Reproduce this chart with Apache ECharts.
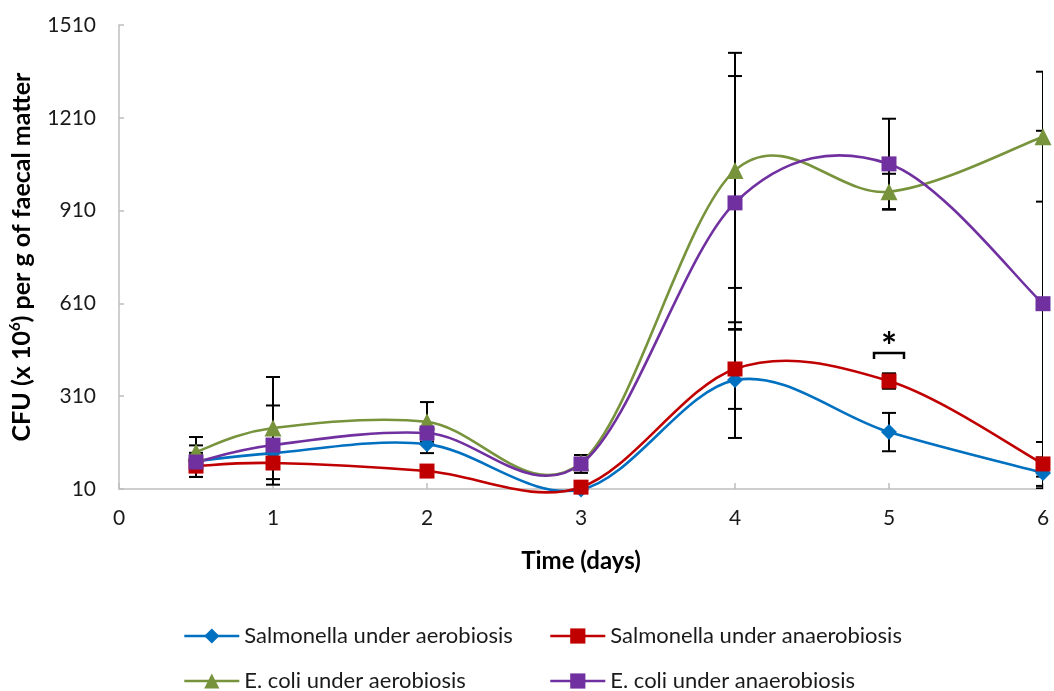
<!DOCTYPE html>
<html>
<head>
<meta charset="utf-8">
<style>
  html, body { margin: 0; padding: 0; background: #ffffff; }
  #chart { width: 1054px; height: 691px; }
</style>
<script src="https://cdn.jsdelivr.net/npm/echarts@6/dist/echarts.min.js"></script>
</head>
<body>
<div id="chart"></div>
<script>
// Sampling times (days)
const days = [0.5, 1, 2, 3, 4, 5, 6];

// Mean counts, CFU (x 10^6) per g of faecal matter
const salmonellaAerobic   = [100, 126, 155, 8, 362, 194, 62];
const salmonellaAnaerobic = [84, 94, 68, 16, 398, 359, 91];
const ecoliAerobic        = [130, 207, 227, 95, 1040, 971, 1149];
const ecoliAnaerobic      = [97, 152, 191, 91, 935, 1061, 609];

// Standard deviations (symmetric error bars)
const salmonellaAerobicSD   = [51, 20, 29, 5, 187, 62, 50];
const salmonellaAnaerobicSD = [35, 15, 10, 5, 129, 25, 71];
const ecoliAerobicSD        = [48, 165, 64, 15, 380, 58, 210];
const ecoliAnaerobicSD      = [30, 128, 20, 29, 410, 146, 559];

// Significance marker between the two Salmonella conditions
const significanceDay = [5];
const significanceLevel = [450];

// Axis ticks
const xTicks = [0, 1, 2, 3, 4, 5, 6];
const yMin = 10, yMax = 1510, yStep = 300;

const seriesNames = [
  'Salmonella under aerobiosis',
  'Salmonella under anaerobiosis',
  'E. coli under aerobiosis',
  'E. coli under anaerobiosis'
];
const seriesColors = ['#0070C0', '#C00000', '#77933C', '#7030A0'];
const seriesSymbols = ['diamond', 'rect', 'triangle', 'rect'];
const seriesSymbolSizes = [16, 15, 17, 15];
const means = [salmonellaAerobic, salmonellaAnaerobic, ecoliAerobic, ecoliAnaerobic];
const sds = [salmonellaAerobicSD, salmonellaAnaerobicSD, ecoliAerobicSD, ecoliAnaerobicSD];

const FONT = 'Lato, "Open Sans", sans-serif';

const chart = echarts.init(document.getElementById('chart'), null, { renderer: 'canvas' });

// Vertical error bar with caps
function errorBarRender(params, api) {
  const x = api.value(0);
  const lo = api.coord([x, api.value(1)]);
  const hi = api.coord([x, api.value(2)]);
  const half = 7;
  const style = { stroke: '#000000', lineWidth: 2 };
  return {
    type: 'group',
    children: [
      { type: 'line', shape: { x1: hi[0], y1: hi[1], x2: lo[0], y2: lo[1] }, style },
      { type: 'line', shape: { x1: hi[0] - half, y1: hi[1], x2: hi[0] + half, y2: hi[1] }, style },
      { type: 'line', shape: { x1: lo[0] - half, y1: lo[1], x2: lo[0] + half, y2: lo[1] }, style }
    ]
  };
}

// Smoothed connecting curve (Catmull-Rom spline as cubic Bezier segments)
function makeCurveRender(values, color) {
  return function (params, api) {
    const k = params.dataIndex;
    if (k >= days.length - 1) return null;
    const pt = (j) => {
      const jj = Math.max(0, Math.min(days.length - 1, j));
      return api.coord([days[jj], values[jj]]);
    };
    const p0 = pt(k - 1), p1 = pt(k), p2 = pt(k + 1), p3 = pt(k + 2);
    const t = 1 / 6;
    return {
      type: 'bezierCurve',
      shape: {
        x1: p1[0], y1: p1[1],
        cpx1: p1[0] + (p2[0] - p0[0]) * t, cpy1: p1[1] + (p2[1] - p0[1]) * t,
        cpx2: p2[0] - (p3[0] - p1[0]) * t, cpy2: p2[1] - (p3[1] - p1[1]) * t,
        x2: p2[0], y2: p2[1]
      },
      style: { stroke: color, lineWidth: 2.6, fill: null, lineCap: 'round' }
    };
  };
}

const series = [];
// Error bars beneath the curves and markers
means.forEach((m, i) => {
  series.push({
    type: 'custom',
    name: seriesNames[i] + ' SD',
    renderItem: errorBarRender,
    data: days.map((d, k) => [d, Math.max(m[k] - sds[i][k], yMin), m[k] + sds[i][k]]),
    encode: { x: 0, y: [1, 2] },
    clip: true,
    silent: true,
    z: 1
  });
});
// Curves
means.forEach((m, i) => {
  series.push({
    type: 'custom',
    name: seriesNames[i] + ' curve',
    renderItem: makeCurveRender(m, seriesColors[i]),
    data: days.map((d, k) => [d, m[k]]),
    encode: { x: 0, y: 1 },
    silent: true,
    z: 2
  });
});
// Markers (these also feed the legend)
means.forEach((m, i) => {
  series.push({
    type: 'line',
    name: seriesNames[i],
    data: days.map((d, k) => [d, m[k]]),
    clip: false,
    symbol: seriesSymbols[i],
    symbolSize: seriesSymbolSizes[i],
    lineStyle: { color: seriesColors[i], width: 2.6, opacity: 0 },
    itemStyle: { color: seriesColors[i] },
    z: 3 + i
  });
});
// Bracket and asterisk marking the significant difference
series.push({
  type: 'custom',
  name: 'significance',
  data: significanceDay.map((d, k) => [d, significanceLevel[k]]),
  encode: { x: 0, y: 1 },
  silent: true,
  z: 10,
  renderItem: function (params, api) {
    const p = api.coord([api.value(0), api.value(1)]);
    const w = 15, h = 6;
    return {
      type: 'group',
      children: [
        {
          type: 'polyline',
          shape: { points: [[p[0] - w, p[1] + h], [p[0] - w, p[1]], [p[0] + w, p[1]], [p[0] + w, p[1] + h]] },
          style: { stroke: '#000000', lineWidth: 2.5, fill: null }
        },
        {
          type: 'text',
          style: {
            text: '*', x: p[0], y: p[1] + 14,
            align: 'center', verticalAlign: 'bottom',
            font: 'bold 38px ' + FONT, fill: '#000000'
          }
        }
      ]
    };
  }
});

const legendPos = [
  { left: 178, top: 620 },
  { left: 544, top: 620 },
  { left: 178, top: 665 },
  { left: 544, top: 665 }
];

const option = {
  backgroundColor: '#ffffff',
  animation: false,
  textStyle: { fontFamily: FONT },
  grid: { left: 116, right: 11, top: 25, bottom: 202, containLabel: false },
  legend: seriesNames.map((n, i) => ({
    data: [n],
    left: legendPos[i].left,
    top: legendPos[i].top,
    itemWidth: 55,
    itemHeight: 19,
    itemGap: 4,
    lineStyle: { opacity: 1, width: 2.6 },
    textStyle: { fontSize: 22, color: '#1a1a1a', fontFamily: FONT }
  })),
  xAxis: {
    type: 'value',
    min: xTicks[0],
    max: xTicks[xTicks.length - 1],
    interval: 1,
    name: 'Time (days)',
    nameLocation: 'middle',
    nameGap: 60,
    nameTextStyle: { fontSize: 24, fontWeight: 'bold', color: '#000000', fontFamily: FONT },
    axisLine: { lineStyle: { color: '#bfbfbf', width: 1.5 } },
    axisTick: { show: true, inside: true, length: 6, lineStyle: { color: '#bfbfbf', width: 1.5 } },
    axisLabel: { fontSize: 21, color: '#1a1a1a', margin: 19, fontFamily: FONT },
    splitLine: { show: false }
  },
  yAxis: {
    type: 'value',
    min: yMin,
    max: yMax,
    interval: yStep,
    name: 'CFU (x 10{sup|6}) per g of faecal matter',
    nameLocation: 'middle',
    nameGap: 84,
    nameRotate: 90,
    nameTextStyle: {
      fontSize: 25, fontWeight: 'bold', color: '#000000', fontFamily: FONT,
      rich: {
        sup: { fontSize: 15, fontWeight: 'bold', verticalAlign: 'top', padding: [0, 0, 12, 0], color: '#000000', fontFamily: FONT }
      }
    },
    axisLine: { show: true, lineStyle: { color: '#bfbfbf', width: 1.5 } },
    axisTick: { show: true, inside: true, length: 5, lineStyle: { color: '#bfbfbf', width: 1.5 } },
    axisLabel: {
      fontSize: 21, color: '#1a1a1a', margin: 23, fontFamily: FONT,
      formatter: (v) => String(v)
    },
    splitLine: { show: false }
  },
  series: series
};

chart.setOption(option);
</script>
</body>
</html>
